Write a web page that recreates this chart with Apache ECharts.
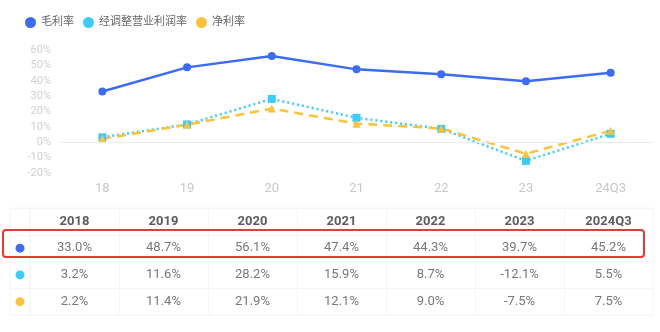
<!DOCTYPE html>
<html>
<head>
<meta charset="utf-8">
<script src="https://cdn.jsdelivr.net/npm/echarts@6/dist/echarts.min.js"></script>
<style>
  html, body { margin: 0; padding: 0; background: #fff; }
  #main { width: 660px; height: 332px; }
</style>
</head>
<body>
<div id="main"></div>
<script>
// 数据
const shortYears = ['18', '19', '20', '21', '22', '23', '24Q3'];
const years = ['2018', '2019', '2020', '2021', '2022', '2023', '2024Q3'];
const seriesNames = ['毛利率', '经调整营业利润率', '净利率'];
const grossMargin = [33.0, 48.7, 56.1, 47.4, 44.3, 39.7, 45.2];
const adjOpMargin = [3.2, 11.6, 28.2, 15.9, 8.7, -12.1, 5.5];
const netMargin = [2.2, 11.4, 21.9, 12.1, 9.0, -7.5, 7.5];
const yTicks = [-20, -10, 0, 10, 20, 30, 40, 50, 60];

const colors = ['#3d6cf4', '#3ccbfb', '#fbc23b'];
const font = 'Roboto, "Noto Sans CJK SC", sans-serif';
const rows = ['head', ...seriesNames];
const allValues = [grossMargin, adjOpMargin, netMargin];

// 表格文字（表头 + 三行数值）
let tableData = [];
years.forEach((y, i) => {
  tableData.push({ value: [y, 'head'], label: { formatter: y, fontWeight: 'bold', color: '#333', fontSize: 13 } });
  allValues.forEach((arr, k) => {
    tableData.push({ value: [y, seriesNames[k]], label: { formatter: arr[i].toFixed(1) + '%' } });
  });
});
let dotData = seriesNames.map((n, k) => ({ value: ['', n], itemStyle: { color: colors[k], opacity: 1 } }));

const lineColor = '#f6f6f6';

let option = {
  backgroundColor: '#fff',
  animation: false,
  textStyle: { fontFamily: font },
  legend: {
    data: seriesNames,
    left: 20,
    top: 12,
    icon: 'circle',
    itemWidth: 11,
    itemHeight: 11,
    itemGap: 9,
    textStyle: { color: '#666', fontSize: 11, fontFamily: font }
  },
  grid: [
    { left: 60, right: 7, top: 50, height: 123 },
    { left: 30, right: 7, top: 208, bottom: 17, show: true, borderColor: lineColor, borderWidth: 1 },
    { left: 10, width: 20, top: 208, bottom: 17, show: true, borderColor: lineColor, borderWidth: 1 }
  ],
  xAxis: [
    {
      gridIndex: 0,
      type: 'category',
      data: shortYears,
      boundaryGap: true,
      axisLine: { show: false },
      axisTick: { show: false },
      axisLabel: { color: '#c8c8c8', fontSize: 13, margin: 9 }
    },
    {
      gridIndex: 1,
      type: 'category',
      data: years,
      axisLine: { show: false },
      axisTick: { show: false },
      axisLabel: { show: false },
      splitLine: { show: true, lineStyle: { color: lineColor } }
    },
    {
      gridIndex: 2,
      type: 'category',
      data: [''],
      axisLine: { show: false },
      axisTick: { show: false },
      axisLabel: { show: false }
    }
  ],
  yAxis: [
    {
      gridIndex: 0,
      type: 'value',
      min: yTicks[0],
      max: yTicks[yTicks.length - 1],
      interval: 10,
      axisLine: { show: false },
      axisTick: { show: false },
      splitLine: { show: false },
      axisLabel: { color: '#d0d0d0', fontSize: 11, margin: 9, formatter: '{value}%' }
    },
    {
      gridIndex: 1,
      type: 'category',
      data: rows,
      inverse: true,
      axisLine: { show: false },
      axisTick: { show: false },
      axisLabel: { show: false },
      splitLine: { show: true, lineStyle: { color: lineColor } }
    },
    {
      gridIndex: 2,
      type: 'category',
      data: rows,
      inverse: true,
      axisLine: { show: false },
      axisTick: { show: false },
      axisLabel: { show: false },
      splitLine: { show: true, lineStyle: { color: lineColor } }
    }
  ],
  series: [
    {
      name: seriesNames[0],
      type: 'line',
      data: grossMargin,
      color: colors[0],
      symbol: 'circle',
      symbolSize: 8,
      lineStyle: { width: 2.5, color: colors[0] },
      markLine: {
        silent: true,
        symbol: 'none',
        label: { show: false },
        lineStyle: { color: '#ebebeb', width: 1, type: 'solid' },
        data: [{ yAxis: 0 }]
      },
      z: 3
    },
    {
      name: seriesNames[1],
      type: 'line',
      data: adjOpMargin,
      color: colors[1],
      symbol: 'rect',
      symbolSize: 8,
      lineStyle: { width: 2.5, color: colors[1], type: [2, 3] },
      z: 2
    },
    {
      name: seriesNames[2],
      type: 'line',
      data: netMargin,
      color: colors[2],
      symbol: 'triangle',
      symbolSize: 8,
      lineStyle: { width: 2.5, color: colors[2], type: [9, 6] },
      z: 2
    },
    {
      type: 'scatter',
      xAxisIndex: 1,
      yAxisIndex: 1,
      symbolSize: 0,
      silent: true,
      label: { show: true, position: 'inside', color: '#555', fontSize: 13, fontFamily: font },
      data: tableData
    },
    {
      type: 'scatter',
      xAxisIndex: 2,
      yAxisIndex: 2,
      symbol: 'circle',
      symbolSize: 9,
      silent: true,
      data: dotData
    }
  ],
  graphic: [
    {
      type: 'rect',
      shape: { x: 3, y: 230, width: 641, height: 27, r: 3 },
      style: { fill: 'none', stroke: '#e83a34', lineWidth: 2 },
      z: 100
    }
  ]
};

let chart = echarts.init(document.getElementById('main'));
chart.setOption(option);
</script>
</body>
</html>
